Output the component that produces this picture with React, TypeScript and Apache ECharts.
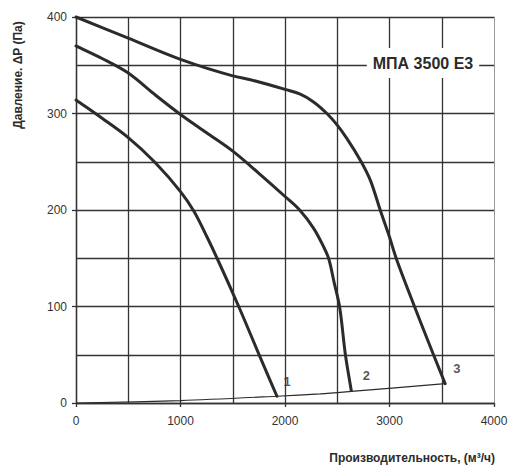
import React, { useEffect, useRef } from 'react';
import * as echarts from 'echarts';

// кривые вентилятора МПА 3500 Е3, [расход м3/ч, давление Па]
const curve1: number[][] = [
  [0, 314], [250, 295], [500, 275], [750, 250], [1000, 219], [1127, 199], [1254, 172],
  [1350, 150], [1557, 100], [1764, 47], [1923, 7],
];
const curve2: number[][] = [
  [0, 370], [250, 357], [500, 342], [750, 320], [1000, 299], [1250, 280], [1500, 261],
  [1750, 238], [2000, 214], [2140, 200], [2274, 181], [2369, 162], [2417, 150],
  [2470, 125], [2522, 100], [2578, 50], [2634, 13],
];
const curve3: number[][] = [
  [0, 400], [500, 378], [1000, 356], [1500, 339], [1670, 335], [2000, 325], [2146, 320],
  [2273, 312], [2401, 300], [2500, 288], [2593, 274], [2729, 250], [2816, 231],
  [2911, 200], [3000, 172], [3064, 150], [3239, 100], [3421, 50], [3533, 20],
];
// характеристика сети
const systemLine: number[][] = [
  [0, 0], [1000, 2.5], [1923, 7], [2337, 9.5], [2634, 12], [3533, 20],
];
const curveLabels = ['1', '2', '3'];
const labelPoints: number[][] = [[2019, 22], [2778, 28], [3644, 36]];

const modelName = 'МПА 3500 Е3';
const yTitle = 'Давление. ΔP (Па)';
const xTitle = 'Производительность, (м³/ч)';

const FONT = '"Liberation Sans", Arial, sans-serif';
const GRID = '#333';
const INK = '#2b2b2b';

// центростремительный сплайн Катмулла-Рома -> кубические Безье (в пикселях)
function splinePath(pts: number[][]): string {
  const n = pts.length;
  const dist = (a: number[], b: number[]) => Math.hypot(a[0] - b[0], a[1] - b[1]);
  let d = `M${pts[0][0]},${pts[0][1]}`;
  for (let i = 0; i < n - 1; i++) {
    const p1 = pts[i];
    const p2 = pts[i + 1];
    const p0 = i > 0 ? pts[i - 1] : [2 * p1[0] - p2[0], 2 * p1[1] - p2[1]];
    const p3 = i < n - 2 ? pts[i + 2] : [2 * p2[0] - p1[0], 2 * p2[1] - p1[1]];
    const d1 = Math.sqrt(dist(p0, p1)) || 1e-6;
    const d2 = Math.sqrt(dist(p1, p2)) || 1e-6;
    const d3 = Math.sqrt(dist(p2, p3)) || 1e-6;
    const b1 = [0, 1].map(
      (k) => (d1 * d1 * p2[k] - d2 * d2 * p0[k] + (2 * d1 * d1 + 3 * d1 * d2 + d2 * d2) * p1[k]) / (3 * d1 * (d1 + d2)),
    );
    const b2 = [0, 1].map(
      (k) => (d3 * d3 * p1[k] - d2 * d2 * p3[k] + (2 * d3 * d3 + 3 * d3 * d2 + d2 * d2) * p2[k]) / (3 * d3 * (d3 + d2)),
    );
    d += ` C${b1[0]},${b1[1]} ${b2[0]},${b2[1]} ${p2[0]},${p2[1]}`;
  }
  return d;
}

const App: React.FC = () => {
  const chartRef = useRef<HTMLDivElement>(null);

  useEffect(() => {
    if (!chartRef.current) return;
    document.body.style.margin = '0';
    const chart = echarts.init(chartRef.current, undefined, { renderer: 'svg' });

    const curveSeries = [curve1, curve2, curve3].map((curve, i) => ({
      name: curveLabels[i],
      type: 'custom' as const,
      data: curve,
      encode: { x: 0, y: 1 },
      z: 3,
      renderItem: (params: any, api: any) => {
        if (params.dataIndex !== 0) return { type: 'group', children: [] };
        const pts = curve.map((p) => api.coord(p));
        return {
          type: 'path',
          shape: { pathData: splinePath(pts) },
          style: { stroke: INK, lineWidth: 3, fill: 'none', lineCap: 'round', lineJoin: 'round' },
        };
      },
    }));

    const option: echarts.EChartsOption = {
      animation: false,
      backgroundColor: '#fff',
      textStyle: { fontFamily: FONT },
      grid: { left: 76, right: 24, top: 17, bottom: 71 },
      xAxis: {
        type: 'value',
        min: 0,
        max: 4000,
        interval: 1000,
        axisLine: { show: true, lineStyle: { color: GRID, width: 1.3 } },
        axisTick: { show: true, length: 4, lineStyle: { color: GRID, width: 1.3 } },
        axisLabel: {
          color: '#333',
          fontSize: 12,
          fontFamily: FONT,
          margin: 12,
          formatter: (v: number) => String(v),
        },
        splitLine: { show: true, showMaxLine: false, lineStyle: { color: GRID, width: 1.3 } },
        minorTick: { show: false, splitNumber: 2 },
        minorSplitLine: { show: true, lineStyle: { color: GRID, width: 1.3 } },
      },
      yAxis: [
        {
          type: 'value',
          min: 0,
          max: 400,
          interval: 100,
          axisLine: { show: true, lineStyle: { color: GRID, width: 1.3 } },
          axisTick: { show: true, length: 4, lineStyle: { color: GRID, width: 1.3 } },
          axisLabel: { color: '#333', fontSize: 12, fontFamily: FONT, margin: 9 },
          splitLine: { show: true, lineStyle: { color: GRID, width: 1.3 } },
          minorTick: { show: false, splitNumber: 2 },
          minorSplitLine: { show: true, lineStyle: { color: GRID, width: 1.3 } },
        },
        {
          type: 'value',
          position: 'right',
          min: 0,
          max: 400,
          axisLine: { show: true, lineStyle: { color: '#999', width: 1 } },
          axisTick: { show: false },
          axisLabel: { show: false },
          splitLine: { show: false },
        },
      ],
      series: [
        ...curveSeries,
        {
          name: 'сеть',
          type: 'line',
          data: systemLine,
          smooth: 0.3,
          symbol: 'none',
          lineStyle: { color: INK, width: 1.2 },
          z: 3,
        },
        {
          name: 'подписи',
          type: 'scatter',
          data: labelPoints.map((p, i) => ({ value: p, name: curveLabels[i] })),
          symbolSize: 0,
          label: {
            show: true,
            position: 'inside',
            formatter: '{b}',
            color: INK,
            fontSize: 13,
            fontWeight: 'bold',
            fontFamily: FONT,
          },
          z: 4,
        },
      ],
      graphic: [
        {
          type: 'text',
          x: 423,
          y: 63,
          z: 10,
          style: {
            text: modelName,
            fill: INK,
            font: `bold 16px ${FONT}`,
            align: 'center',
            verticalAlign: 'middle',
            backgroundColor: '#fff',
            padding: [7, 6],
          },
        },
        {
          type: 'text',
          x: 18,
          y: 75,
          rotation: Math.PI / 2,
          style: {
            text: yTitle,
            fill: INK,
            font: `bold 12px ${FONT}`,
            align: 'center',
            verticalAlign: 'middle',
          },
        },
        {
          type: 'text',
          x: 495,
          y: 458,
          style: {
            text: xTitle,
            fill: INK,
            font: `bold 12px ${FONT}`,
            align: 'right',
            verticalAlign: 'middle',
          },
        },
      ],
    };

    chart.setOption(option);
    return () => chart.dispose();
  }, []);

  return <div ref={chartRef} style={{ width: 518, height: 474 }} />;
};

export default App;
